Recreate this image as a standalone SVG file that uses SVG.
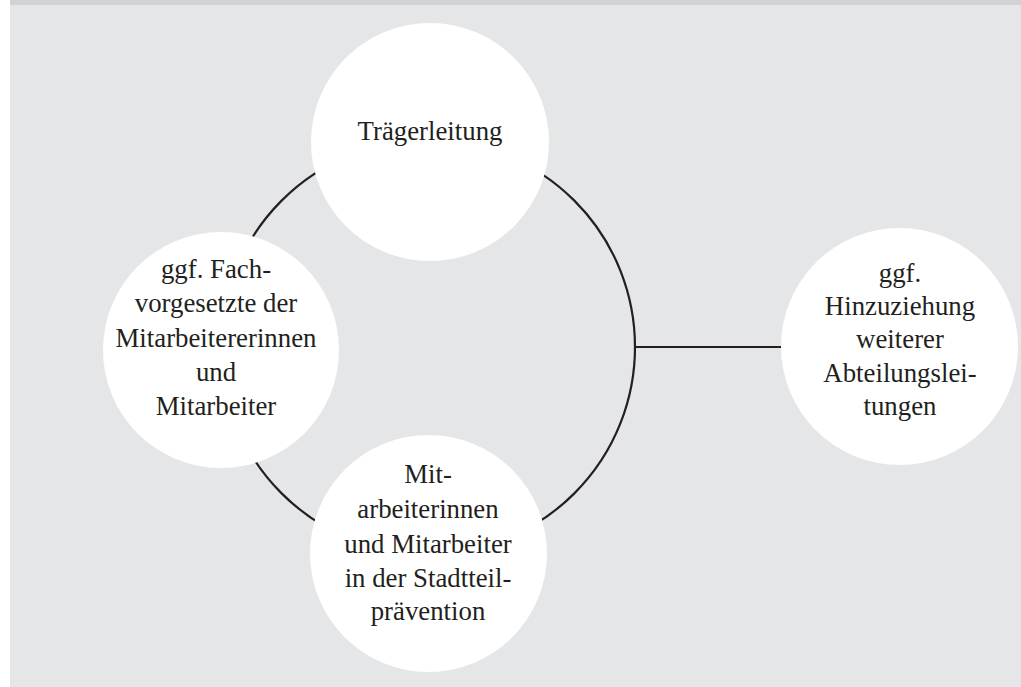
<svg xmlns="http://www.w3.org/2000/svg" width="1021" height="687" viewBox="0 0 1021 687">
<style>
.bg{fill:#e5e6e8}
.band{fill:#d1d2d4}
.node{fill:#ffffff}
.conn{fill:none;stroke:#231f20;stroke-width:2.2}
.t{font-family:"Liberation Serif","Times New Roman",serif;font-size:26.8px;fill:#231f20;text-anchor:middle}
</style>
<rect x="0" y="0" width="1021" height="687" fill="#ffffff"/>
<rect class="bg" x="10" y="5" width="1011" height="682"/>
<rect class="band" x="10" y="0" width="1011" height="5"/>
<g id="connectors">
<circle class="conn" cx="428" cy="347" r="207"/>
<line class="conn" x1="635" y1="347" x2="782" y2="347"/>
</g>
<g id="node-traegerleitung">
<circle class="node" cx="430" cy="142" r="119"/>
<text class="t" x="430" y="140">Trägerleitung</text>
</g>
<g id="node-fachvorgesetzte">
<circle class="node" cx="221" cy="350" r="118"/>
<text class="t" x="216" y="278">ggf. Fach-</text>
<text class="t" x="216" y="312">vorgesetzte der</text>
<text class="t" x="216" y="347">Mitarbeitererinnen</text>
<text class="t" x="216" y="381">und</text>
<text class="t" x="216" y="415">Mitarbeiter</text>
</g>
<g id="node-mitarbeiter">
<circle class="node" cx="428.5" cy="553.5" r="118.5"/>
<text class="t" x="428" y="483">Mit-</text>
<text class="t" x="428" y="518">arbeiterinnen</text>
<text class="t" x="428" y="553">und Mitarbeiter</text>
<text class="t" x="428" y="587">in der Stadtteil-</text>
<text class="t" x="428" y="620">prävention</text>
</g>
<g id="node-abteilungsleitungen">
<circle class="node" cx="899.5" cy="346.5" r="118.5"/>
<text class="t" x="900" y="282">ggf.</text>
<text class="t" x="900" y="315">Hinzuziehung</text>
<text class="t" x="900" y="348">weiterer</text>
<text class="t" x="900" y="382">Abteilungslei-</text>
<text class="t" x="900" y="415">tungen</text>
</g>
</svg>
